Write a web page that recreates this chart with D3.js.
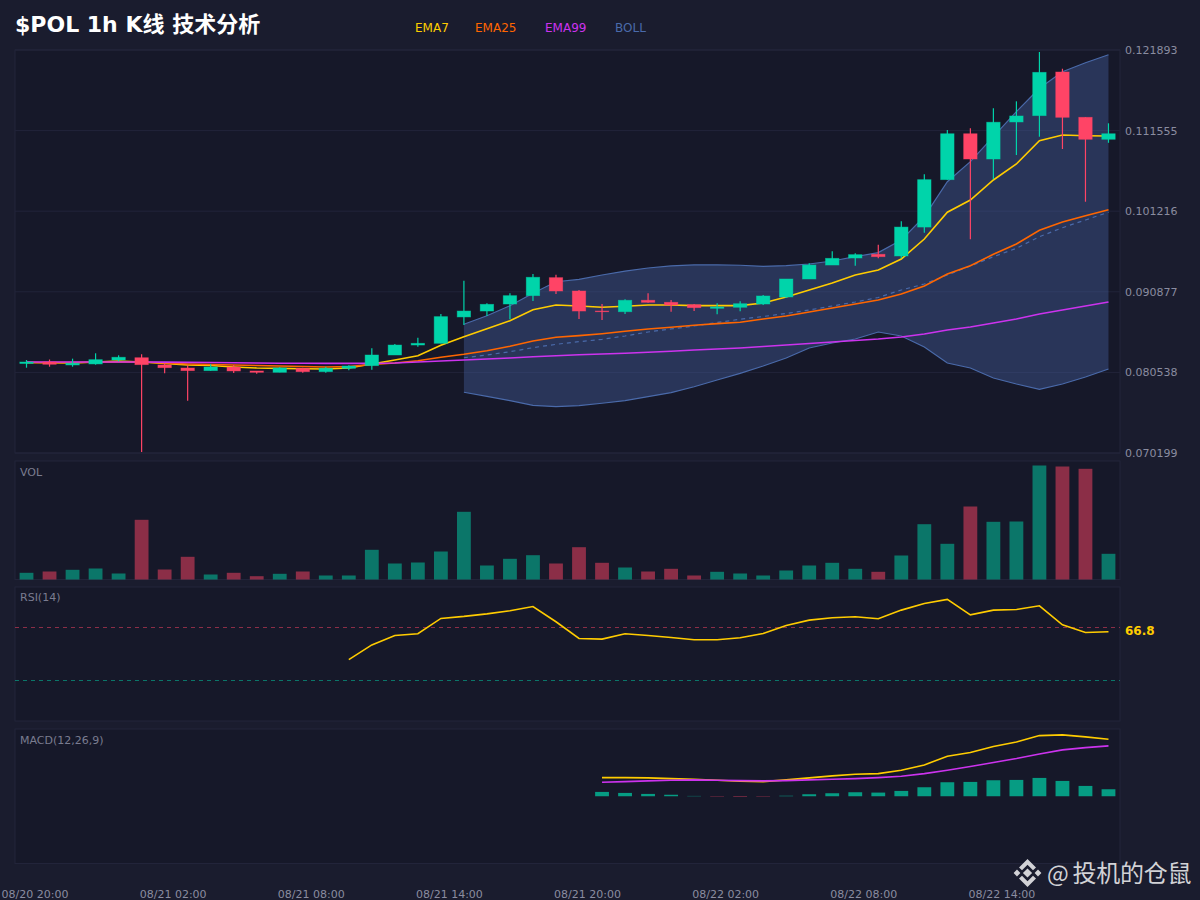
<!DOCTYPE html>
<html><head><meta charset="utf-8">
<style>html,body{margin:0;padding:0;background:#1a1c2e}svg{display:block}text{font-family:"DejaVu Sans","Noto Sans CJK SC",sans-serif}</style>
<script src="https://cdn.jsdelivr.net/npm/d3@7"></script></head><body>
<script>
const opens=[.08168,.08187,.08149,.08162,.08213,.08242,.08149,.08110,.08076,.08123,.08072,.08055,.08106,.08063,.08106,.08140,.08277,.08405,.08427,.08765,.08841,.08931,.09038,.09269,.09098,.08841,.08832,.08979,.08953,.08922,.08876,.08889,.08931,.09021,.09252,.09431,.09521,.09569,.09547,.09918,.10526,.11115,.10791,.11266,.11347,.11907,.11326,.11044];
const highs=[.08213,.08219,.08230,.08299,.08273,.08286,.08175,.08145,.08158,.08149,.08072,.08119,.08114,.08127,.08145,.08363,.08418,.08499,.08803,.09230,.08940,.09068,.09316,.09307,.09111,.08931,.08991,.09068,.08983,.08931,.08940,.08966,.09047,.09252,.09453,.09607,.09582,.09692,.09992,.10595,.11162,.11184,.11441,.11531,.12164,.11949,.11326,.11249];
const lows=[.08114,.08127,.08127,.08153,.08196,.07033,.08042,.07691,.08076,.08046,.08037,.08055,.08050,.08050,.08081,.08087,.08277,.08384,.08427,.08662,.08777,.08735,.08970,.09059,.08739,.08726,.08803,.08948,.08832,.08841,.08799,.08837,.08918,.09008,.09252,.09431,.09422,.09517,.09517,.09845,.10526,.09761,.10531,.10842,.11077,.10919,.10243,.10999];
const closes=[.08187,.08158,.08171,.08217,.08248,.08153,.08114,.08076,.08123,.08072,.08055,.08110,.08063,.08106,.08136,.08277,.08405,.08427,.08769,.08841,.08927,.09038,.09274,.09098,.08841,.08832,.08979,.08953,.08918,.08884,.08893,.08935,.09034,.09252,.09431,.09517,.09564,.09538,.09918,.10526,.11115,.10791,.11263,.11343,.11903,.11326,.11044,.11115];
const ema7=[.08181,.08178,.08174,.08187,.08200,.08187,.08167,.08149,.08142,.08123,.08110,.08106,.08100,.08098,.08110,.08162,.08213,.08268,.08402,.08512,.08614,.08717,.08858,.08919,.08906,.08889,.08902,.08919,.08919,.08910,.08910,.08910,.08944,.09021,.09111,.09201,.09303,.09367,.09508,.09765,.10108,.10265,.10522,.10727,.11026,.11099,.11090,.11086];
const ema25=[.08181,.08181,.08181,.08184,.08187,.08187,.08174,.08162,.08155,.08149,.08142,.08136,.08130,.08123,.08130,.08155,.08174,.08204,.08248,.08286,.08332,.08389,.08457,.08504,.08525,.08550,.08581,.08611,.08632,.08658,.08679,.08697,.08739,.08777,.08829,.08880,.08931,.08983,.09060,.09162,.09316,.09423,.09569,.09701,.09877,.09983,.10064,.10141];
const ema99=[.08187,.08187,.08187,.08187,.08187,.08187,.08185,.08182,.08180,.08177,.08174,.08172,.08171,.08169,.08169,.08169,.08174,.08187,.08200,.08213,.08226,.08239,.08255,.08268,.08280,.08290,.08300,.08312,.08326,.08341,.08354,.08367,.08386,.08405,.08425,.08444,.08463,.08482,.08508,.08546,.08598,.08636,.08688,.08739,.08803,.08854,.08906,.08957];
const bollUpper=[.08671,.08781,.08909,.09068,.09217,.09247,.09303,.09354,.09393,.09419,.09432,.09432,.09428,.09415,.09423,.09444,.09483,.09538,.09590,.09752,.10051,.10500,.10757,.11077,.11398,.11698,.11911,.12026,.12129];
const bollMid=[.08242,.08277,.08319,.08371,.08414,.08448,.08478,.08521,.08572,.08611,.08649,.08694,.08735,.08771,.08809,.08854,.08906,.08957,.09015,.09111,.09188,.09303,.09419,.09538,.09646,.09794,.09910,.10009,.10108];
const bollLower=[.07799,.07747,.07691,.07632,.07614,.07627,.07658,.07691,.07742,.07794,.07870,.07956,.08042,.08136,.08239,.08367,.08431,.08482,.08572,.08521,.08380,.08174,.08110,.07982,.07905,.07835,.07905,.07995,.08098];
const bollStart=19;
const volumes=[6.7,8,9.7,11,6,59.7,10,22.7,5,6.7,3.3,5.7,8,4,4,29.7,16,17,28,67.7,14,20.7,24.3,16,32.3,16.7,12,8,10.7,4,7.7,6,4,9,14,16.7,10.7,7.7,24,55.3,35.7,73,57.7,58,114,113,110.7,25.7];
const rsi=[46.0,57.0,64.0,65.3,76.8,78.3,80.2,82.5,85.7,74.3,61.8,61.3,65.3,64.0,62.5,60.8,60.8,62.3,65.5,71.5,75.5,77.3,78.0,76.5,83.0,88.0,91.0,79.5,83.0,83.5,86.2,72.0,66.3,66.8];
const rsiStart=14;
const macd=[.00112,.00112,.00110,.00106,.00102,.00096,.00090,.00088,.00098,.00110,.00122,.00132,.00136,.00156,.00188,.00240,.00262,.00298,.00326,.00364,.00368,.00356,.00342];
const macdSignal=[.00084,.00088,.00092,.00096,.00098,.00096,.00094,.00092,.00094,.00098,.00102,.00106,.00112,.00120,.00136,.00156,.00178,.00202,.00226,.00254,.00278,.00292,.00302];
const macdHist=[.00026,.00020,.00014,.00009,.00002,-.00002,-.00003,-.00002,.00003,.00012,.00018,.00024,.00022,.00032,.00054,.00084,.00086,.00096,.00098,.00110,.00092,.00062,.00042];
const macdStart=25;
const priceTicks=[.121893,.111555,.101216,.090877,.080538,.070199];
const timeLabels=["08/20 20:00","08/21 02:00","08/21 08:00","08/21 14:00","08/21 20:00","08/22 02:00","08/22 08:00","08/22 14:00"];
const legendNames=["EMA7","EMA25","EMA99","BOLL"];

const UP="#00d4aa",DOWN="#ff4466",BG="#1a1c2e",PANEL="#161829",BORDER="#22243a",Y7="#ffcc00",O25="#ff6600",P99="#cc33ee",BOLLC="#4a6aaa",TXT="#8a8ca0";
const L=15,R=1120;
const svg=d3.select("body").append("svg").attr("width",1200).attr("height",900);
svg.append("rect").attr("width",1200).attr("height",900).attr("fill",BG);
const idx=d3.range(opens.length);
const x=d3.scaleBand().domain(idx).range([L,R]);
const cx=i=>x(i)+x.bandwidth()/2, bw=x.bandwidth()*0.6;
const panels=[[50,453],[461,579.5],[587,721],[729,863.5]];
panels.forEach(p=>svg.append("rect").attr("x",L).attr("y",p[0]).attr("width",R-L).attr("height",p[1]-p[0]).attr("fill",PANEL).attr("stroke",BORDER).attr("stroke-width",1));

// main
const y=d3.scaleLinear().domain([.070199,.121893]).range([453,50]);
svg.append("g").selectAll("line").data(priceTicks).join("line").attr("x1",L).attr("x2",R).attr("y1",y).attr("y2",y).attr("stroke",BORDER).attr("stroke-width",1);
const bandIdx=d3.range(bollUpper.length);
svg.append("path").attr("fill","#4a6ab0").attr("fill-opacity",.36)
  .attr("d",d3.area().x(i=>cx(i+bollStart)).y0(i=>y(bollLower[i])).y1(i=>y(bollUpper[i]))(bandIdx));
const bandLine=arr=>d3.line().x(i=>cx(i+bollStart)).y(i=>y(arr[i]))(bandIdx);
svg.append("path").attr("d",bandLine(bollUpper)).attr("fill","none").attr("stroke",BOLLC).attr("stroke-width",1.2);
svg.append("path").attr("d",bandLine(bollLower)).attr("fill","none").attr("stroke",BOLLC).attr("stroke-width",1.2);
svg.append("path").attr("d",bandLine(bollMid)).attr("fill","none").attr("stroke",BOLLC).attr("stroke-width",1.2).attr("stroke-dasharray","4,4");
const lineOf=a=>d3.line().x((d,i)=>cx(i)).y(d=>y(d))(a);
[[ema7,Y7],[ema25,O25],[ema99,P99]].forEach(([a,c])=>svg.append("path").attr("d",lineOf(a)).attr("fill","none").attr("stroke",c).attr("stroke-width",1.6));
const col=i=>closes[i]>=opens[i]?UP:DOWN;
svg.append("g").selectAll("line").data(idx).join("line").attr("x1",cx).attr("x2",cx).attr("y1",i=>y(highs[i])).attr("y2",i=>y(lows[i])).attr("stroke",col).attr("stroke-width",1.2);
const bodyW=bw-0.4;
svg.append("g").selectAll("rect").data(idx).join("rect").attr("x",i=>cx(i)-bodyW/2).attr("width",bodyW)
  .attr("y",i=>y(Math.max(opens[i],closes[i]))).attr("height",i=>Math.abs(y(opens[i])-y(closes[i]))).attr("fill",col)
  .attr("stroke",col).attr("stroke-opacity",.55).attr("stroke-width",.8);
const ax=svg.append("g").attr("transform",`translate(${R+5},0)`).call(d3.axisRight(y).tickValues(priceTicks).tickFormat(d3.format(".6f")).tickSize(0).tickPadding(0));
ax.select(".domain").remove();
ax.selectAll("text").attr("fill",TXT).style("font-size","11px").style("font-family",'"DejaVu Sans"');

// volume
const yv=d3.scaleLinear().domain([0,118.5]).range([579.5,461]);
svg.append("g").selectAll("rect").data(idx).join("rect").attr("x",i=>cx(i)-bw/2).attr("width",bw).attr("y",i=>yv(volumes[i])).attr("height",i=>yv(0)-yv(volumes[i])).attr("fill",col).attr("fill-opacity",.5);

// rsi
const yr=d3.scaleLinear().domain([0,100]).range([721.125,587.375]);
[[70,DOWN],[30,UP]].forEach(([v,c])=>{const ly=Math.floor(yr(v)-0.02)+0.5;svg.append("line").attr("x1",L).attr("x2",R).attr("y1",ly).attr("y2",ly).attr("stroke",c).attr("stroke-opacity",.5).attr("stroke-width",1).attr("stroke-dasharray","4,4");});
svg.append("path").attr("d",d3.line().x((d,i)=>cx(i+rsiStart)).y(d=>yr(d))(rsi)).attr("fill","none").attr("stroke",Y7).attr("stroke-width",1.6);
svg.append("text").attr("x",1125).attr("y",yr(rsi[rsi.length-1])+3.5).attr("fill",Y7).attr("font-size",12).attr("font-weight","bold").text(rsi[rsi.length-1].toFixed(1));

// macd
const ym=d3.scaleLinear().domain([-.004035,.004035]).range([863.5,729]);
svg.append("g").selectAll("rect").data(macdHist).join("rect").attr("x",(d,i)=>cx(i+macdStart)-bw/2).attr("width",bw)
  .attr("y",d=>ym(Math.max(d,0))).attr("height",d=>Math.abs(ym(d)-ym(0))).attr("fill",d=>d>=0?UP:DOWN).attr("fill-opacity",.7);
[[macd,Y7],[macdSignal,P99]].forEach(([a,c])=>svg.append("path").attr("d",d3.line().x((d,i)=>cx(i+macdStart)).y(d=>ym(d))(a)).attr("fill","none").attr("stroke",c).attr("stroke-width",1.6));

// time axis
const tx=svg.append("g").attr("transform","translate(8.5,890)").call(d3.axisBottom(x).tickValues(idx.filter(i=>i%6===0)).tickFormat(i=>timeLabels[i/6]).tickSize(0).tickPadding(0));
tx.select(".domain").remove();
tx.selectAll("text").attr("fill",TXT).style("font-size","11px").style("font-family",'"DejaVu Sans"');

// text
svg.append("text").attr("x",15).attr("y",32).attr("fill","#fff").attr("font-size",22).attr("font-weight","bold").text("$POL 1h K线 技术分析");
const legendX=[415,475,545,615],legendC=[Y7,O25,P99,BOLLC];
legendNames.forEach((n,i)=>svg.append("text").attr("x",legendX[i]).attr("y",32).attr("fill",legendC[i]).attr("font-size",12).text(n));
[["VOL",475.5],["RSI(14)",601],["MACD(12,26,9)",744]].forEach(([t,yy])=>svg.append("text").attr("x",20).attr("y",yy).attr("fill","#7a7c90").attr("font-size",11).text(t));

// watermark
const wm=svg.append("g").attr("fill","#d2d2d6");
const diamond=(c,d,r)=>`M${c},${d-r}L${c+r},${d}L${c},${d+r}L${c-r},${d}Z`;
const g=wm.append("g").attr("transform","translate(1027.5,873)");
g.append("path").attr("d",diamond(0,0,4.6)+diamond(-10.5,0,3.4)+diamond(10.5,0,3.4));
g.append("path").attr("d","M0,-14L8.5,-5.5L5.5,-2.8L0,-8.3L-5.5,-2.8L-8.5,-5.5Z M0,14L8.5,5.5L5.5,2.8L0,8.3L-5.5,2.8L-8.5,5.5Z");
const wt=wm.append("text").attr("y",882).attr("font-size",24).style("font-family",'"Noto Sans CJK SC","DejaVu Sans"');
wt.append("tspan").attr("x",1047).style("font-size","23px").text("@");
wt.append("tspan").attr("x",1072.5).attr("textLength",119).text("投机的仓鼠");
</script></body></html>
